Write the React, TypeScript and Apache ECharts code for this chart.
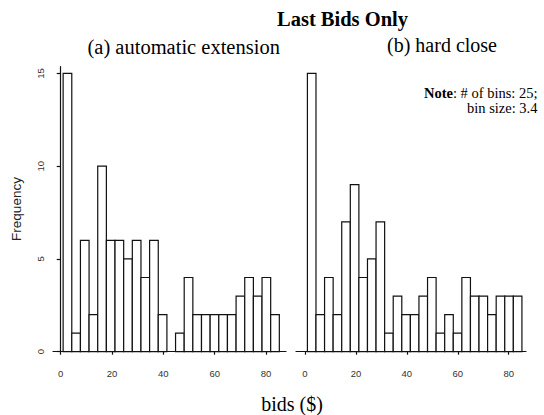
import React, { useEffect, useRef } from "react";
import * as echarts from "echarts";

const binStart = 0.95;
const binWidth = 3.37;
const autoCounts = [15, 1, 6, 2, 10, 6, 6, 5, 6, 4, 6, 2, 0, 1, 4, 2, 2, 2, 2, 2, 3, 4, 3, 4, 2];
const hardCounts = [15, 2, 4, 2, 7, 9, 4, 5, 7, 1, 3, 2, 2, 3, 4, 1, 2, 1, 4, 3, 3, 2, 3, 3, 3];
const xTicks = [0, 20, 40, 60, 80];
const yTicks = [0, 5, 10, 15];

const toBins = (counts: number[]) =>
  counts.map((c, i) => [binStart + i * binWidth, binStart + (i + 1) * binWidth, c]);

const serif = "Liberation Serif";
const sans = "Liberation Sans";

export default function App() {
  const ref = useRef<HTMLDivElement>(null);
  useEffect(() => {
    if (!ref.current) return;
    const chart = echarts.init(ref.current, null, { renderer: "svg" });
    const renderItem = (params: any, api: any) => {
      const c = api.value(2);
      if (!c) return null;
      const p0 = api.coord([api.value(0), 0]);
      const p1 = api.coord([api.value(1), c]);
      return {
        type: "rect",
        shape: { x: p0[0], y: p1[1], width: p1[0] - p0[0], height: p0[1] - p1[1] },
        style: { fill: "#fff", stroke: "#111", lineWidth: 1.2 },
      };
    };
    const xAxisCommon = (gridIndex: number, min: number, max: number) => ({
      type: "value",
      gridIndex,
      min,
      max,
      position: "bottom",
      offset: 9,
      splitLine: { show: false },
      axisLine: { show: true, lineStyle: { color: "#111", width: 1.2 } },
      axisTick: { show: true, customValues: xTicks, length: 3, lineStyle: { color: "#111", width: 1.2 } },
      axisLabel: {
        customValues: xTicks,
        margin: 8,
        fontFamily: sans,
        fontSize: 9.5,
        color: "#333",
      },
    });
    const txt = (x: number, y: number, text: string, size: number, weight = "normal", align = "center") => ({
      type: "text",
      x,
      y,
      style: {
        text,
        fontFamily: serif,
        fontSize: size,
        fontWeight: weight,
        fill: "#000",
        textAlign: align,
        textVerticalAlign: "middle",
      },
    });
    chart.setOption({
      animation: false,
      grid: [
        { left: 53, top: 66.7, width: 233, height: 285 },
        { left: 296, top: 66.7, width: 230, height: 285 },
      ],
      xAxis: [xAxisCommon(0, -3.0, 87.8), xAxisCommon(1, -3.53, 86.8)],
      yAxis: [
        {
          type: "value",
          gridIndex: 0,
          min: 0,
          max: 15.36,
          splitLine: { show: false },
          axisLine: { show: true, lineStyle: { color: "#111", width: 1.2 } },
          axisTick: { show: true, customValues: yTicks, length: 4, lineStyle: { color: "#111", width: 1.2 } },
          axisLabel: {
            customValues: yTicks,
            rotate: 90,
            margin: 8,
            fontFamily: sans,
            fontSize: 9.5,
            color: "#333",
          },
        },
        {
          type: "value",
          gridIndex: 1,
          min: 0,
          max: 15.36,
          show: false,
        },
      ],
      series: [
        {
          type: "custom",
          xAxisIndex: 0,
          yAxisIndex: 0,
          renderItem,
          encode: { x: [0, 1], y: 2 },
          data: toBins(autoCounts),
        },
        {
          type: "custom",
          xAxisIndex: 1,
          yAxisIndex: 1,
          renderItem,
          encode: { x: [0, 1], y: 2 },
          data: toBins(hardCounts),
        },
      ],
      graphic: [
        txt(342.5, 18.5, "Last Bids Only", 20.5, "bold"),
        txt(183.7, 46.5, "(a) automatic extension", 20.5),
        txt(442, 45, "(b) hard close", 20),
        txt(292, 404, "bids ($)", 20),
        {
          type: "text",
          x: 537.5,
          y: 92.5,
          style: {
            text: "{b|Note}: # of bins: 25;",
            rich: { b: { fontWeight: "bold", fontFamily: serif, fontSize: 14.5 } },
            fontFamily: serif,
            fontSize: 14.5,
            fill: "#000",
            textAlign: "right",
            textVerticalAlign: "middle",
          },
        },
        txt(537.5, 107.5, "bin size: 3.4", 14.5, "normal", "right"),
        {
          type: "text",
          x: 16.7,
          y: 209,
          rotation: Math.PI / 2,
          style: {
            text: "Frequency",
            fontFamily: sans,
            fontSize: 13.5,
            fill: "#222",
            textAlign: "center",
            textVerticalAlign: "middle",
          },
        },
      ],
    });
    return () => chart.dispose();
  }, []);
  return (
    <div
      ref={ref}
      style={{ position: "fixed", left: 0, top: 0, width: 544, height: 415, background: "#fff" }}
    />
  );
}
